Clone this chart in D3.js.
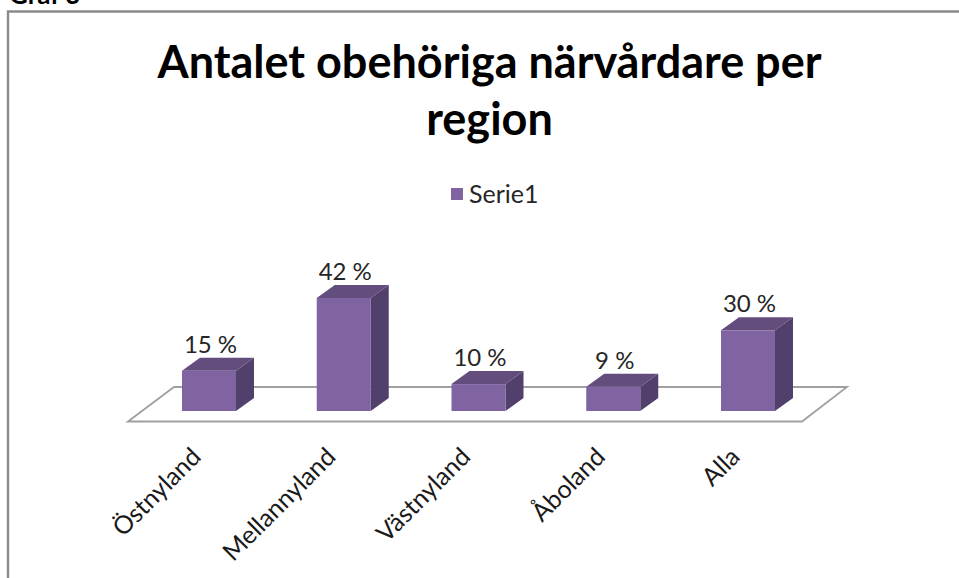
<!DOCTYPE html>
<html><head><meta charset="utf-8">
<script src="https://cdnjs.cloudflare.com/ajax/libs/d3/7.9.0/d3.min.js"></script>
<style>html,body{margin:0;padding:0;background:#fff;overflow:hidden}svg{display:block}text{font-family:Lato,"Open Sans",sans-serif}</style>
</head><body><svg id="c" width="959" height="578"></svg>
<script>
const categories = ["Östnyland","Mellannyland","Västnyland","Åboland","Alla"];
const values = [15,42,10,9,30];
const labels = ["15 %","42 %","10 %","9 %","30 %"];
const titleLines = ["Antalet obehöriga närvårdare per","region"];
const seriesName = "Serie1";
const caption = "Graf 3";

const svg = d3.select("#c");
const x0 = d3.scalePoint().domain(categories).range([182, 721]);
const y = d3.scaleLinear().domain([0, 42]).range([411, 298]);
const barW = 54, dx = 18, dy = 13;

svg.append("text").text(caption).attr("x",9).attr("y",4).attr("font-size",26).attr("font-weight",700).attr("fill","#000");
svg.append("path").attr("d","M8,578V11.5H959").attr("fill","none").attr("stroke","#8a8a8a").attr("stroke-width",2.4);

svg.selectAll("text.t").data(titleLines).join("text").attr("class","t")
  .attr("x",489.5).attr("y",(d,i)=>78+i*57).attr("text-anchor","middle")
  .attr("font-size",45).attr("font-weight",700).attr("fill","#000").text(d=>d);

svg.append("rect").attr("x",451).attr("y",188).attr("width",12).attr("height",12).attr("fill","#8064a2");
svg.append("text").attr("x",469).attr("y",203).attr("font-size",25).attr("fill","#262626").text(seriesName);

svg.append("path").attr("d","M128,421.5L174,387H847L802,421.5Z").attr("fill","#fff").attr("stroke","#a0a0a0").attr("stroke-width",1.8);

const g = svg.selectAll("g.bar").data(categories).join("g").attr("class","bar");
const X = c => x0(c), V = i => values[i];
g.append("path").attr("fill","#51406b").attr("d",(c,i)=>{const l=X(c)+barW,t=y(V(i)),b=y(0);
  return `M${l},${t}L${l+dx},${t-dy}V${b-dy}L${l},${b}Z`;});
g.append("path").attr("fill","#624d7c").attr("d",(c,i)=>{const l=X(c),t=y(V(i));
  return `M${l},${t}L${l+dx},${t-dy}H${l+barW+dx}L${l+barW},${t}Z`;});
g.append("rect").attr("x",c=>X(c)).attr("y",(c,i)=>y(V(i))).attr("width",barW)
  .attr("height",(c,i)=>y(0)-y(V(i))).attr("fill","#8064a2");
g.append("text").attr("x",c=>X(c)+barW/2+1.5).attr("y",(c,i)=>y(V(i))-18)
  .attr("text-anchor","middle").attr("font-size",24).attr("fill","#262626").text((c,i)=>labels[i]);
g.append("text").attr("text-anchor","end").attr("font-size",25).attr("fill","#1a1a1a")
  .attr("transform",c=>`translate(${X(c)+8},${446}) rotate(-45)`).attr("dy","0.7em").text(c=>c);
</script></body></html>
